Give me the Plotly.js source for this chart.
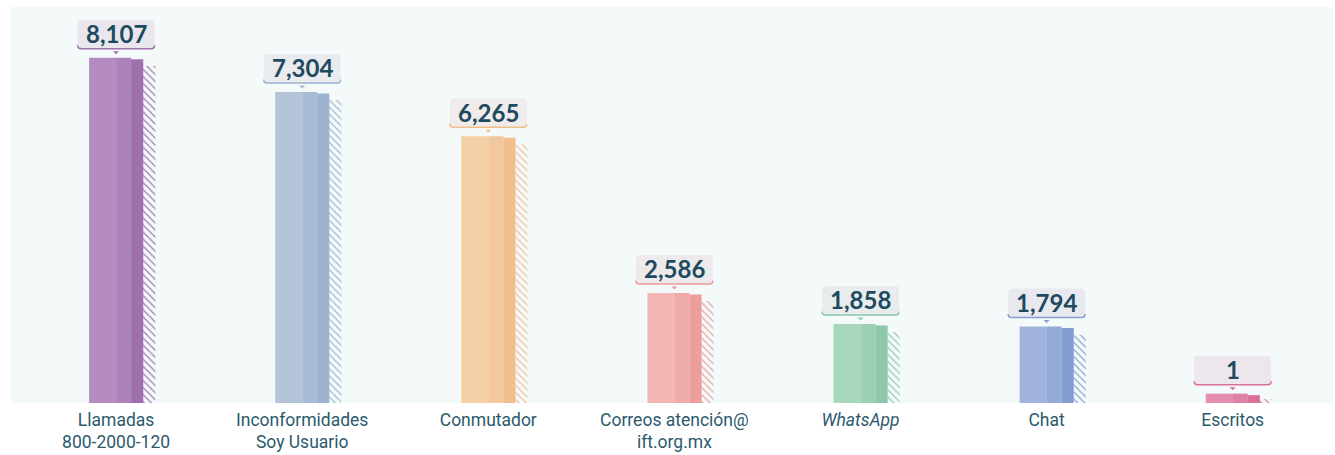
<!DOCTYPE html>
<html>
<head>
<meta charset="utf-8">
<script src="https://cdn.plot.ly/plotly-3.0.1.min.js"></script>
<style>
html,body{margin:0;padding:0;background:#ffffff;}
#chart{width:1335px;height:455px;}
</style>
</head>
<body>
<div id="chart"></div>
<script>
// ---- data ----
const categories = ['Llamadas<br>800-2000-120', 'Inconformidades<br>Soy Usuario', 'Conmutador', 'Correos atención@<br>ift.org.mx', '<i>WhatsApp</i>', 'Chat', 'Escritos'];
const values = [8107, 7304, 6265, 2586, 1858, 1794, 1];

// ---- style ----
const lightColors = ['#b48cc1', '#b4c5da', '#f5cfa6', '#f4b6b5', '#a8d7c0', '#9fb3dc', '#e48eb2'];
const midColors   = ['#ab82b9', '#a9bcd5', '#f3c89c', '#f0aaa9', '#9cd0b6', '#94aad7', '#df82a8'];
const darkColors  = ['#a070ae', '#9eb3cf', '#f1bf8b', '#ec9d9d', '#8ec8aa', '#869dd1', '#d9719b'];
const minShown = 220;   // minimum visible bar height (axis units)
const textColor = '#1d4a5f';

const xs = categories.map((_, i) => i);
const shown = values.map(v => Math.max(v, minShown));

function mix(hex, base, t) {
  const a = parseInt(hex.slice(1), 16), b = parseInt(base.slice(1), 16);
  const ch = s => Math.round(((a >> s) & 255) * t + ((b >> s) & 255) * (1 - t));
  return 'rgb(' + ch(16) + ',' + ch(8) + ',' + ch(0) + ')';
}

const traces = [
  {type: 'bar', x: xs, y: shown.map(v => Math.max(v - 190, 90)), offset: 0.145, width: 0.066,
   marker: {color: 'rgba(0,0,0,0)', line: {width: 0},
            pattern: {shape: '\\', fgcolor: darkColors, bgcolor: 'rgba(0,0,0,0)', size: 5, solidity: 0.22, fillmode: 'replace'}},
   hoverinfo: 'skip'},
  {type: 'bar', x: xs, y: shown, offset: -0.145, width: 0.146,
   marker: {color: lightColors, line: {width: 0}}, hoverinfo: 'skip'},
  {type: 'bar', x: xs, y: shown, offset: 0, width: 0.081,
   marker: {color: midColors, line: {width: 0}}, hoverinfo: 'skip'},
  {type: 'bar', x: xs, y: shown.map(v => v - 35), offset: 0.0805, width: 0.0655,
   marker: {color: darkColors, line: {width: 0}}, hoverinfo: 'skip'}
];

const shapes = [];
const annotations = [];
xs.forEach((x, i) => {
  const common = {xref: 'x', yref: 'y', xsizemode: 'pixel', ysizemode: 'pixel', xanchor: x, yanchor: shown[i], layer: 'above'};
  shapes.push(Object.assign({}, common, {
    type: 'path',
    path: 'M -34.5,38 L 34.5,38 Q 38.5,38 38.5,34 L 38.5,13 Q 38.5,9 34.5,9 L -34.5,9 Q -38.5,9 -38.5,13 L -38.5,34 Q -38.5,38 -34.5,38 Z',
    fillcolor: mix(lightColors[i], '#eeeef1', 0.08), line: {width: 0}
  }));
  shapes.push(Object.assign({}, common, {
    type: 'path',
    path: 'M -38.5,12.5 Q -38.5,9 -35,9 L 35,9 Q 38.5,9 38.5,12.5',
    line: {color: darkColors[i], width: 1.5}
  }));
  shapes.push(Object.assign({}, common, {
    type: 'path',
    path: 'M -3,6.5 L 3,6.5 L 0,3.5 Z',
    fillcolor: darkColors[i], line: {width: 0}
  }));
  annotations.push({
    x: x, y: shown[i], xref: 'x', yref: 'y', yshift: 24, yanchor: 'middle', xanchor: 'center',
    showarrow: false, text: '<b>' + values[i].toLocaleString('en-US') + '</b>',
    font: {family: 'Lato, sans-serif', size: 24, color: textColor}
  });
});

const layout = {
  width: 1335, height: 455,
  margin: {l: 10, r: 2, t: 7, b: 52},
  paper_bgcolor: '#ffffff',
  plot_bgcolor: '#f3faf9',
  barmode: 'overlay',
  showlegend: false,
  xaxis: {
    type: 'linear', range: [-0.57, 6.539], tickvals: xs, ticktext: categories,
    showgrid: false, zeroline: false, showline: false, ticks: '', fixedrange: true,
    ticklabelstandoff: 4,
    tickfont: {family: 'Roboto, sans-serif', size: 17.5, color: '#2c5a6d'}
  },
  yaxis: {
    range: [0, 9300], visible: false, showgrid: false, zeroline: false, fixedrange: true
  },
  shapes: shapes,
  annotations: annotations
};

Plotly.newPlot('chart', traces, layout, {displayModeBar: false, staticPlot: true});
</script>
</body>
</html>
